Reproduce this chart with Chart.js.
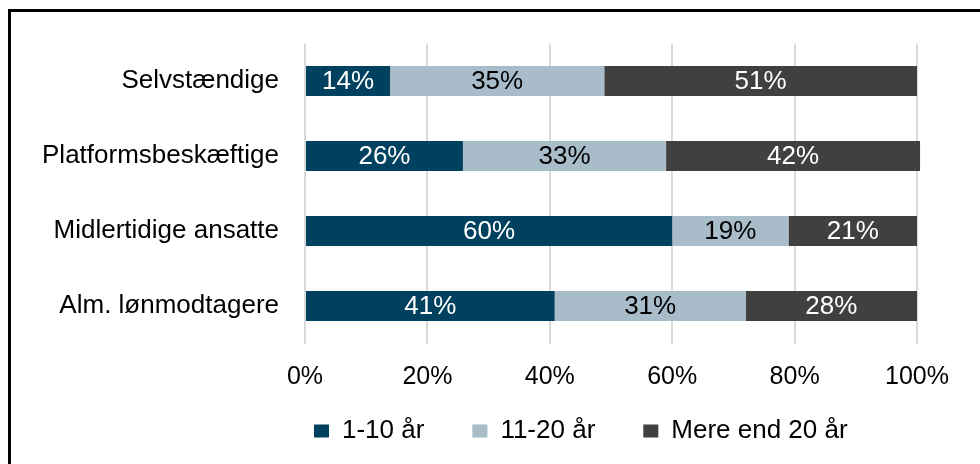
<!DOCTYPE html>
<html>
<head>
<meta charset="utf-8">
<script src="https://cdn.jsdelivr.net/npm/chart.js@4"></script>
<style>
    html, body { margin: 0; padding: 0; background: #fff; overflow: hidden; }
    body { width: 980px; height: 464px; position: relative; }
    #frame {
        position: absolute; left: 8px; top: 9px; width: 1000px; height: 470px;
        border-left: 3px solid #000; border-top: 3px solid #000;
    }
    #wrap { position: absolute; left: 10px; top: 10px; width: 986px; height: 484px; }
</style>
</head>
<body>
<div id="frame"></div>
<div id="wrap"><canvas id="chart"></canvas></div>
<script>
const categories = ['Selvstændige', 'Platformsbeskæftige', 'Midlertidige ansatte', 'Alm. lønmodtagere'];
const seriesNames = ['1-10 år', '11-20 år', 'Mere end 20 år'];
const years1to10 = [13.9, 25.8, 60.0, 40.8];
const years11to20 = [35.0, 33.2, 19.0, 31.2];
const yearsOver20 = [51.1, 41.5, 21.0, 28.0];
const shownLabels = [
    ['14%', '26%', '60%', '41%'],
    ['35%', '33%', '19%', '31%'],
    ['51%', '42%', '21%', '28%']
];
const xTicks = [0, 20, 40, 60, 80, 100];
const colors = ['#00415f', '#a9bcc9', '#404040'];
const labelColors = ['#fff', '#000', '#fff'];

const FONT = 'Arial, "Liberation Sans", sans-serif';

// draws the percentage inside each bar segment
const barLabels = {
    id: 'barLabels',
    afterDatasetsDraw(c) {
        const ctx = c.ctx;
        ctx.save();
        ctx.font = '26px ' + FONT;
        ctx.textAlign = 'center';
        ctx.textBaseline = 'middle';
        c.data.datasets.forEach((ds, i) => {
            c.getDatasetMeta(i).data.forEach((bar, j) => {
                const p = bar.getProps(['x', 'y', 'base'], true);
                ctx.fillStyle = labelColors[i];
                ctx.fillText(shownLabels[i][j], (p.x + p.base) / 2, p.y + 1);
            });
        });
        ctx.restore();
    }
};

// the legend sits left of centre and tucked under the axis in the original
const moveLegend = {
    id: 'moveLegend',
    afterLayout(c) {
        const lg = c.legend;
        if (!lg || !lg.lineWidths) return;
        const pad = lg.options.labels.padding;
        const start = (lg.left + pad + lg.right - lg.lineWidths[0]) / 2;
        const dx = 304 - start;
        const dy = 360 - lg.top;
        lg.left += dx; lg.right += dx;
        lg.top += dy; lg.bottom += dy;
    }
};

const datasets = [years1to10, years11to20, yearsOver20].map((d, i) => ({
    label: seriesNames[i],
    data: d,
    backgroundColor: colors[i],
    borderWidth: 0,
    barPercentage: 0.4,
    categoryPercentage: 1,
    clip: false
}));

new Chart(document.getElementById('chart'), {
    type: 'bar',
    data: { labels: categories, datasets: datasets },
    options: {
        indexAxis: 'y',
        responsive: true,
        maintainAspectRatio: false,
        animation: false,
        layout: { padding: { top: 33.5, right: 79, bottom: 0, left: 0 } },
        plugins: {
            tooltip: { enabled: false },
            legend: {
                position: 'bottom',
                labels: {
                    boxWidth: 15,
                    boxHeight: 13,
                    padding: 48,
                    color: '#000',
                    font: { size: 26, family: FONT }
                }
            }
        },
        scales: {
            x: {
                stacked: true,
                min: 0,
                max: 100,
                afterBuildTicks: s => { s.ticks = xTicks.map(v => ({ value: v })); },
                afterFit: s => {
                    s.height = 66.5;
                    s.paddingLeft = 0;
                    s.paddingRight = 0;
                },
                grid: { color: '#d9d9d9', lineWidth: 2, drawTicks: false },
                border: { display: false },
                ticks: {
                    padding: 19,
                    color: '#000',
                    font: { size: 25, family: FONT },
                    callback: v => v + '%'
                }
            },
            y: {
                stacked: true,
                afterFit: s => {
                    s.width = 295;
                    s.paddingTop = 0;
                    s.paddingBottom = 0;
                },
                grid: { display: false, drawTicks: false },
                border: { display: false },
                ticks: {
                    padding: 26,
                    color: '#000',
                    font: { size: 26, family: FONT }
                }
            }
        }
    },
    plugins: [barLabels, moveLegend]
});
</script>
</body>
</html>
